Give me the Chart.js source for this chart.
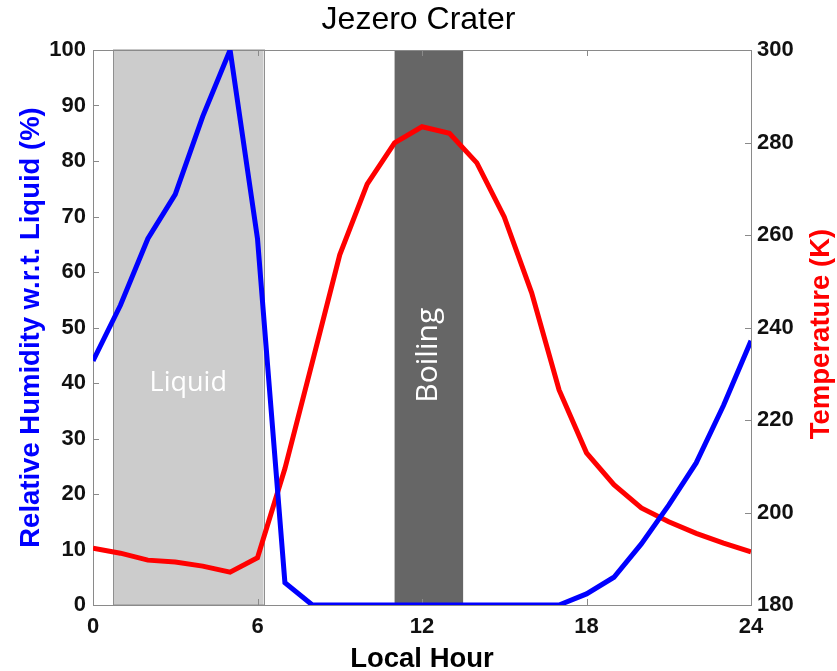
<!DOCTYPE html>
<html>
<head>
<meta charset="utf-8">
<script src="https://cdn.jsdelivr.net/npm/chart.js@4.4.1/dist/chart.umd.min.js"></script>
<style>
  html, body { margin: 0; padding: 0; background: #fff; }
  #wrap { width: 837px; height: 671px; }
</style>
</head>
<body>
<div id="wrap"><canvas id="jezeroChart"></canvas></div>
<script>
// Local hour (0..24) and the two series
const hours = [0, 1, 2, 3, 4, 5, 6, 7, 8, 9, 10, 11, 12, 13, 14, 15, 16, 17, 18, 19, 20, 21, 22, 23, 24];
const humidity = [44, 54, 66, 74, 88, 100, 66, 4, 0, 0, 0, 0, 0, 0, 0, 0, 0, 0, 2, 5, 11, 18, 25.6, 36, 47.6];
const temperature = [192.3, 191.2, 189.7, 189.3, 188.4, 187.1, 190.2, 209.5, 232.5, 255.7, 271, 279.9, 283.4, 282, 275.6, 263.9, 247.5, 226.5, 212.9, 206, 201, 198, 195.5, 193.4, 191.5];

// shaded periods (local hour)
const liquidBand = [0.73, 6.22];
const boilingBand = [11.0, 13.5];

const xTicks = [0, 6, 12, 18, 24];

const humidityPoints = hours.map((h, i) => ({ x: h, y: humidity[i] }));
const temperaturePoints = hours.map((h, i) => ({ x: h, y: temperature[i] }));

const sansBold = '"Liberation Sans", Arial, sans-serif';

// bands + labels behind the lines, box and inward ticks like the original
const bandsPlugin = {
    id: 'bands',
    beforeDatasetsDraw(chart) {
        const { ctx, chartArea } = chart;
        const x = chart.scales.x;
        const top = chartArea.top, bottom = chartArea.bottom;

        ctx.save();
        // Liquid
        let x0 = x.getPixelForValue(liquidBand[0]);
        let x1 = x.getPixelForValue(liquidBand[1]);
        ctx.fillStyle = '#cccccc';
        ctx.fillRect(x0, top, x1 - x0, bottom - top);
        ctx.strokeStyle = '#8f8f8f';
        ctx.lineWidth = 1;
        ctx.strokeRect(Math.round(x0) + 0.5, top, Math.round(x1 - x0), bottom - top);
        ctx.fillStyle = '#ffffff';
        ctx.font = '27px "Open Sans"';
        ctx.textAlign = 'center';
        ctx.textBaseline = 'middle';
        ctx.fillText('Liquid', (x0 + x1) / 2, chart.scales.y.getPixelForValue(40));

        // Boiling
        x0 = x.getPixelForValue(boilingBand[0]);
        x1 = x.getPixelForValue(boilingBand[1]);
        ctx.fillStyle = '#666666';
        ctx.fillRect(x0, top, x1 - x0, bottom - top);
        ctx.translate((x0 + x1) / 2, chart.scales.y.getPixelForValue(45));
        ctx.rotate(-Math.PI / 2);
        ctx.fillStyle = '#ffffff';
        ctx.font = '30px "Open Sans"';
        ctx.fillText('Boiling', 0, 0);
        ctx.restore();

        // axes box
        ctx.save();
        ctx.strokeStyle = '#8a8a8a';
        ctx.lineWidth = 1;
        ctx.strokeRect(Math.round(chartArea.left) + 0.5, Math.round(top) + 0.5,
            Math.round(chartArea.right - chartArea.left), Math.round(bottom - top));

        // inward tick marks
        const len = 6;
        ctx.beginPath();
        xTicks.forEach(v => {
            const px = Math.round(x.getPixelForValue(v)) + 0.5;
            ctx.moveTo(px, bottom); ctx.lineTo(px, bottom - len);
            ctx.moveTo(px, top); ctx.lineTo(px, top + len);
        });
        chart.scales.y.ticks.forEach(t => {
            const py = Math.round(chart.scales.y.getPixelForValue(t.value)) + 0.5;
            ctx.moveTo(chartArea.left, py); ctx.lineTo(chartArea.left + len, py);
        });
        chart.scales.y2.ticks.forEach(t => {
            const py = Math.round(chart.scales.y2.getPixelForValue(t.value)) + 0.5;
            ctx.moveTo(chartArea.right, py); ctx.lineTo(chartArea.right - len, py);
        });
        ctx.stroke();
        ctx.restore();
    },
    afterDraw(chart) {
        // right axis title reads bottom-to-top in the original
        const { ctx } = chart;
        ctx.save();
        ctx.translate(821, 334);
        ctx.rotate(-Math.PI / 2);
        ctx.fillStyle = '#ff0000';
        ctx.font = 'bold 27.5px ' + sansBold;
        ctx.textAlign = 'center';
        ctx.textBaseline = 'middle';
        ctx.fillText('Temperature (K)', 0, 0);
        ctx.restore();
    }
};

const tickFont = { family: sansBold, size: 22, weight: 'bold' };
const labelFont = { family: sansBold, size: 27.5, weight: 'bold' };

const ctx = document.getElementById('jezeroChart').getContext('2d');
new Chart(ctx, {
    type: 'line',
    data: {
        datasets: [{
            label: 'Relative Humidity',
            data: humidityPoints,
            borderColor: '#0000ff',
            borderWidth: 5,
            pointRadius: 0,
            tension: 0,
            yAxisID: 'y'
        }, {
            label: 'Temperature',
            data: temperaturePoints,
            borderColor: '#ff0000',
            borderWidth: 5,
            pointRadius: 0,
            tension: 0,
            yAxisID: 'y2'
        }]
    },
    options: {
        responsive: true,
        maintainAspectRatio: false,
        animation: false,
        layout: { padding: 0 },
        scales: {
            x: {
                type: 'linear',
                min: 0,
                max: 24,
                afterBuildTicks: scale => { scale.ticks = xTicks.map(v => ({ value: v })); },
                grid: { display: false, drawTicks: false },
                border: { display: false },
                ticks: { color: '#111', font: tickFont, padding: 9, maxRotation: 0 },
                title: { display: true, text: 'Local Hour', color: '#000', font: labelFont, padding: { top: 0, bottom: -5 } },
                afterFit: scale => { scale.height = 66; }
            },
            y: {
                position: 'left',
                min: 0,
                max: 100,
                ticks: { stepSize: 10, color: '#111', font: tickFont, padding: 7 },
                grid: { display: false, drawTicks: false },
                border: { display: false },
                title: { display: true, text: 'Relative Humidity w.r.t. Liquid (%)', color: '#0000ff', font: labelFont, padding: { top: 15, bottom: 0 } },
                afterFit: scale => { scale.width = 93; }
            },
            y2: {
                position: 'right',
                min: 180,
                max: 300,
                ticks: { stepSize: 20, color: '#111', font: tickFont, padding: 6 },
                grid: { display: false, drawTicks: false },
                border: { display: false },
                title: { display: false },
                afterFit: scale => { scale.width = 86; }
            }
        },
        plugins: {
            legend: { display: false },
            tooltip: { enabled: false },
            title: {
                display: true,
                text: 'Jezero Crater',
                color: '#000',
                font: { family: sansBold, size: 32, weight: 'normal' },
                padding: { top: 1, bottom: 10.6 }
            }
        }
    },
    plugins: [bandsPlugin]
});
</script>
</body>
</html>
